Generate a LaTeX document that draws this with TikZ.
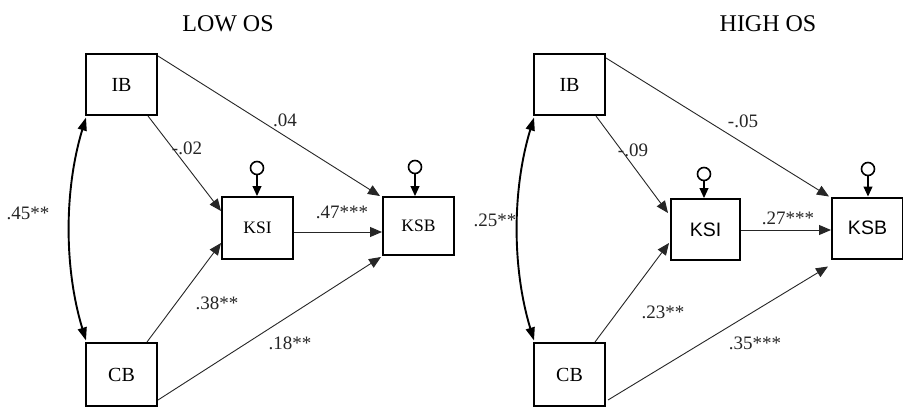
\documentclass[tikz,border=0pt]{standalone}
\usepackage{fontspec}
\setmainfont{Liberation Serif}
\newfontfamily\sansf{Liberation Sans}
\usetikzlibrary{arrows.meta,calc}
\begin{document}
\begin{tikzpicture}[x=1pt,y=-1pt,
 box/.style={draw,line width=2pt,minimum width=71pt,minimum height=61pt,inner sep=0pt,font=\fontsize{20}{20}\selectfont},
 pth/.style={draw=black!85,line width=0.9pt,-{Triangle[length=12pt,width=10pt]}},
 corr/.style={line width=1.9pt,{Triangle[length=13pt,width=9pt]}-{Triangle[length=13pt,width=9pt]}},
 res/.style={circle,draw,line width=1.6pt,minimum size=13pt,inner sep=0pt},
 resarr/.style={line width=1.1pt,-{Triangle[length=10pt,width=9pt]}},
 lab/.style={font=\fontsize{19}{19}\selectfont,text=black!85,inner sep=0pt},
 ttl/.style={font=\fontsize{24}{24}\selectfont,inner sep=0pt}]
\useasboundingbox (0,0) rectangle (903,407);
\fill[white] (0,0) rectangle (903,407);

% ---------------- LOW OS ----------------
\node[ttl] (t1) at (228,24) {LOW OS};
\node[box] (IB1) at (121.5,84.5) {IB};
\node[box,minimum height=63pt] (CB1) at (121.5,374.5) {CB};
\node[box,minimum height=62pt,font=\fontsize{17.5}{17.5}\selectfont] (KSI1) at (257.5,228) {KSI};
\node[box,minimum height=58pt,font=\fontsize{17.5}{17.5}\selectfont] (KSB1) at (418.5,226) {KSB};
\node[res] (r1) at (257,168) {};
\node[res] (r2) at (415,167) {};
\draw[resarr] (r1.south) -- (r1.south |- KSI1.north);
\draw[resarr] (r2.south) -- (r2.south |- KSB1.north);

\draw[pth] ($(IB1.south)+(26.5,0)$) -- ($(KSI1.west)+(0,-17)$);
\draw[pth] ($(IB1.north east)+(0,3)$) -- ($(KSB1.north west)+(-2,0)$);
\draw[pth] ($(CB1.north)+(25.5,0)$) -- ($(KSI1.west)+(0,15)$);
\draw[pth] ($(CB1.east)+(0,25.5)$) -- ($(KSB1.south west)+(-1,1)$);
\draw[pth] ($(KSI1.east)+(0,4)$) -- ($(KSB1.west)+(0,6)$);
\draw[corr] ($(IB1.south west)+(1,1.5)$) .. controls (64,190) and (64,268) .. ($(CB1.north west)+(1,-1.5)$);

\node[lab] (l1) at (187,148) {-.02};
\node[lab] (l2) at (285,120) {.04};
\node[lab] (l3) at (342,212) {.47***};
\node[lab] (l4) at (217,303) {.38**};
\node[lab] (l5) at (290,343) {.18**};
\node[lab] (l6) at (28,213) {.45**};

% ---------------- HIGH OS ----------------
\node[ttl] (t2) at (768,24) {HIGH OS};
\node[box] (IB2) at (569.5,84.5) {IB};
\node[box,minimum height=63pt] (CB2) at (569.5,374.5) {CB};
\node[box,minimum width=69pt,font=\sansf\fontsize{19.5}{19.5}\selectfont] (KSI2) at (705.5,229.5) {KSI};
\node[box,font=\sansf\fontsize{19.5}{19.5}\selectfont] (KSB2) at (867.5,228) {KSB};
\node[res] (r3) at (704,174) {};
\node[res] (r4) at (868,169) {};
\draw[resarr] (r3.south) -- (r3.south |- KSI2.north);
\draw[resarr] (r4.south) -- (r4.south |- KSB2.north);

\draw[pth] ($(IB2.south)+(26.5,0)$) -- ($(KSI2.west)+(-2,-16.5)$);
\draw[pth] ($(IB2.north east)+(0,5)$) -- ($(KSB2.north west)+(-2,0)$);
\draw[pth] ($(CB2.north)+(25.5,0)$) -- ($(KSI2.west)+(-1,13.5)$);
\draw[pth] ($(CB2.east)+(2,25.5)$) -- ($(KSB2.south west)+(-3,7)$);
\draw[pth] ($(KSI2.east)+(0,0.5)$) -- ($(KSB2.west)+(0,2)$);
\draw[corr] ($(IB2.south west)+(1,1.5)$) .. controls (512,190) and (512,268) .. ($(CB2.north west)+(1,-1.5)$);

\node[lab] (l7) at (633,150) {-.09};
\node[lab] (l8) at (743,121) {-.05};
\node[lab] (l9) at (788,218) {.27***};
\node[lab] (l10) at (663,312) {.23**};
\node[lab] (l11) at (755,343) {.35***};
\node[lab] (l12) at (495,220) {.25**};
\end{tikzpicture}
\end{document}
